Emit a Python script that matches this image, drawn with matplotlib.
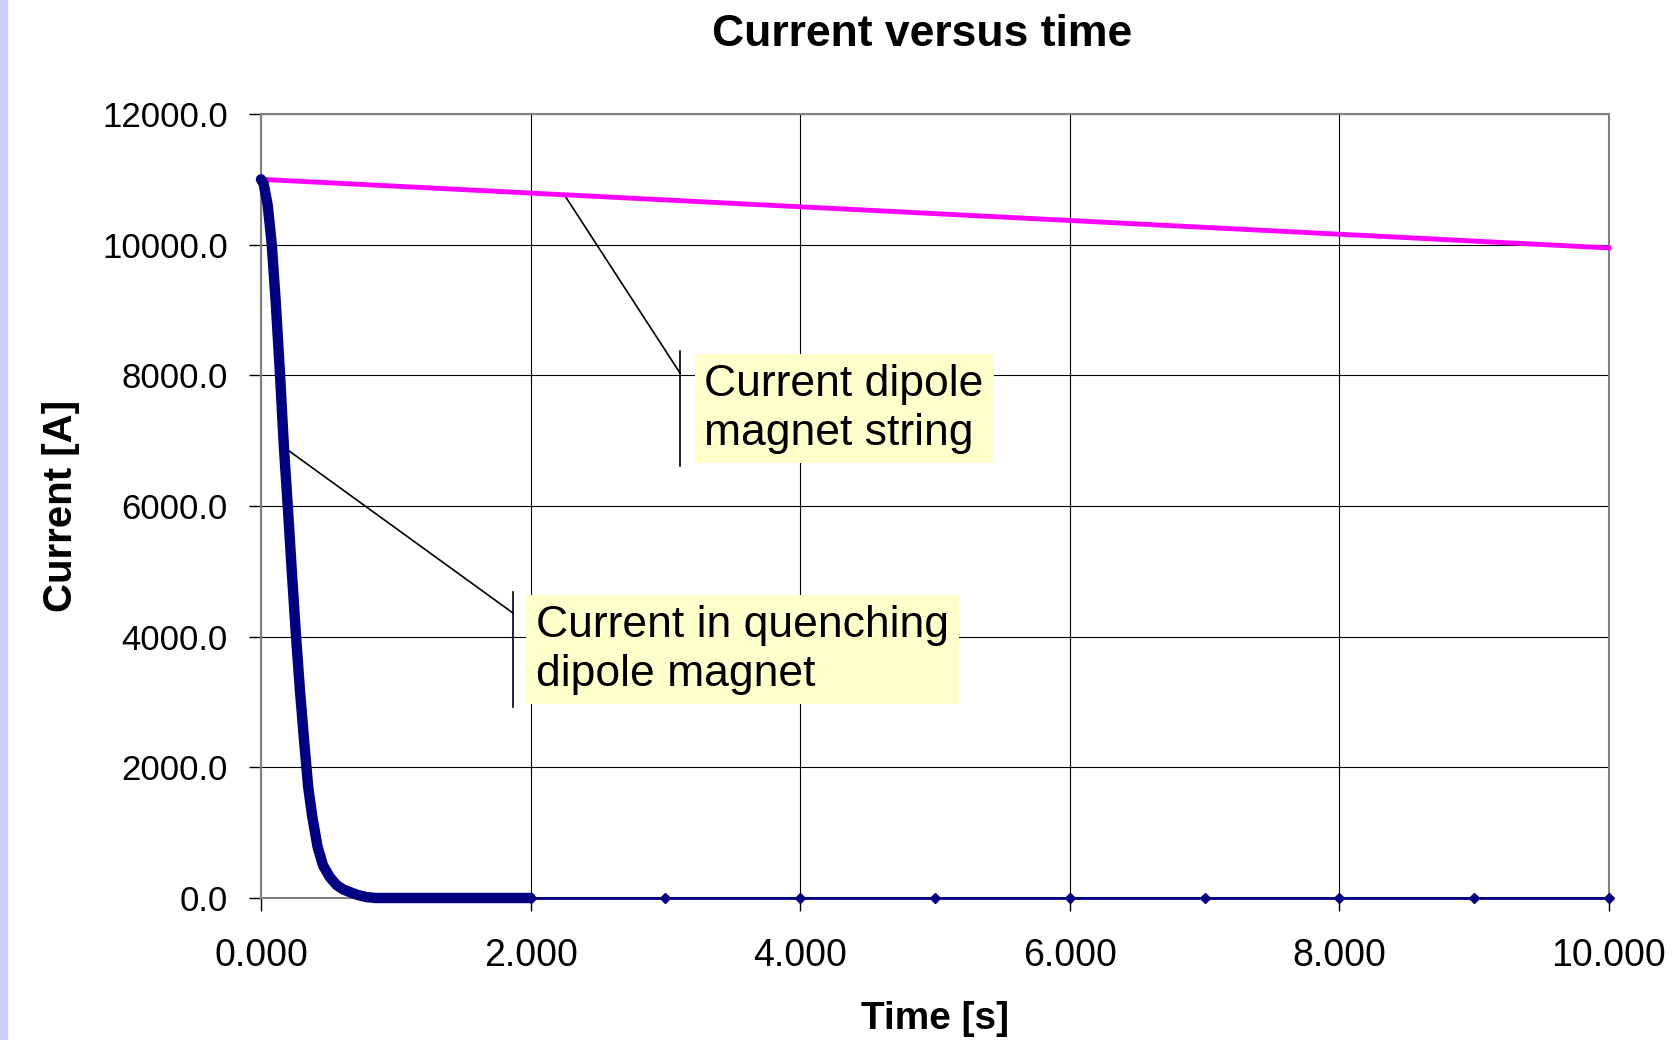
import matplotlib.pyplot as plt
from matplotlib.patches import Rectangle

plt.rcParams["font.family"] = ["Liberation Sans", "DejaVu Sans"]

# quenching magnet: dense samples up to 2 s, then one point per second
t_fast = [0.0, 0.02, 0.05, 0.08, 0.11, 0.14, 0.17, 0.20, 0.23, 0.26, 0.29,
          0.32, 0.35, 0.38, 0.42, 0.46, 0.51, 0.56, 0.61, 0.66, 0.72, 0.78,
          0.85, 1.0, 1.2, 1.4, 1.6, 1.8, 2.0]
i_fast = [11000, 10930, 10600, 10000, 9100, 8050, 6900, 5950, 4950, 4000,
          3150, 2400, 1700, 1250, 780, 500, 320, 200, 130, 90, 45, 15,
          0, 0, 0, 0, 0, 0, 0]
t_slow = [2, 3, 4, 5, 6, 7, 8, 9, 10]
i_slow = [0, 0, 0, 0, 0, 0, 0, 0, 0]

# rest of the dipole string
t_string = [0, 1, 2, 3, 4, 5, 6, 7, 8, 9, 10]
i_string = [11000, 10895, 10790, 10685, 10580, 10475, 10370, 10265, 10160,
            10055, 9950]

x_ticks = [0, 2, 4, 6, 8, 10]
y_ticks = [0, 2000, 4000, 6000, 8000, 10000, 12000]

fig = plt.figure(figsize=(16.74, 10.4), dpi=100)
fig.patches.append(Rectangle((0, 0), 7 / 1674, 1, transform=fig.transFigure,
                             color="#ccccff", zorder=-1))
ax = fig.add_axes([261 / 1674, 142 / 1040, 1348 / 1674, 784 / 1040])

ax.plot(t_string, i_string, color="#ff00ff", lw=3.5, clip_on=False, zorder=3)
ax.plot(t_slow, i_slow, color="#000080", lw=2, marker="D", ms=5,
        clip_on=False, zorder=4)
ax.plot(t_fast, i_fast, color="#000080", lw=7.5, solid_capstyle="round",
        solid_joinstyle="round", clip_on=False, zorder=5)

ax.set_xlim(0, 10)
ax.set_ylim(0, 12000)
ax.set_xticks(x_ticks)
ax.set_yticks(y_ticks)
ax.set_xticklabels([f"{v:.3f}" for v in x_ticks])
ax.set_yticklabels([f"{v:.1f}" for v in y_ticks])
ax.tick_params(axis="x", labelsize=27, length=9, width=1, pad=20)
ax.tick_params(axis="y", labelsize=25, length=9, width=1, pad=15)
ax.grid(True, color="black", lw=0.8)
ax.set_axisbelow(True)
for s in ax.spines.values():
    s.set_color("#808080")
    s.set_linewidth(1.5)

ax.set_xlabel("Time [s]", fontsize=28, fontweight="bold", labelpad=19)
ax.set_ylabel("Current [A]", fontsize=29, fontweight="bold", labelpad=16)
fig.text(922 / 1674, 1 - 34 / 1040, "Current versus time", fontsize=32,
         fontweight="bold", ha="center", va="center")

box = dict(boxstyle="square,pad=0.22", fc="#ffffcc", ec="none")

# label for the string current
ax.plot([3.108, 3.108], [6612, 8372], color="black", lw=1.2)
ax.plot([3.108, t_string[2] + 0.25], [8036, 10764], color="black", lw=1.2)
ax.text(3.29, 7492, "Current dipole\nmagnet string", fontsize=32,
        va="center", ha="left", bbox=box, zorder=6, linespacing=1.25)

# label for the quenching magnet
ax.plot([1.869, 1.869], [2923, 4684], color="black", lw=1.2)
ax.plot([1.869, t_fast[6]], [4362, i_fast[6]], color="black", lw=1.2)
ax.text(2.04, 3803, "Current in quenching\ndipole magnet", fontsize=32,
        va="center", ha="left", bbox=box, zorder=6, linespacing=1.25)

fig.savefig("out.png", dpi=100)
